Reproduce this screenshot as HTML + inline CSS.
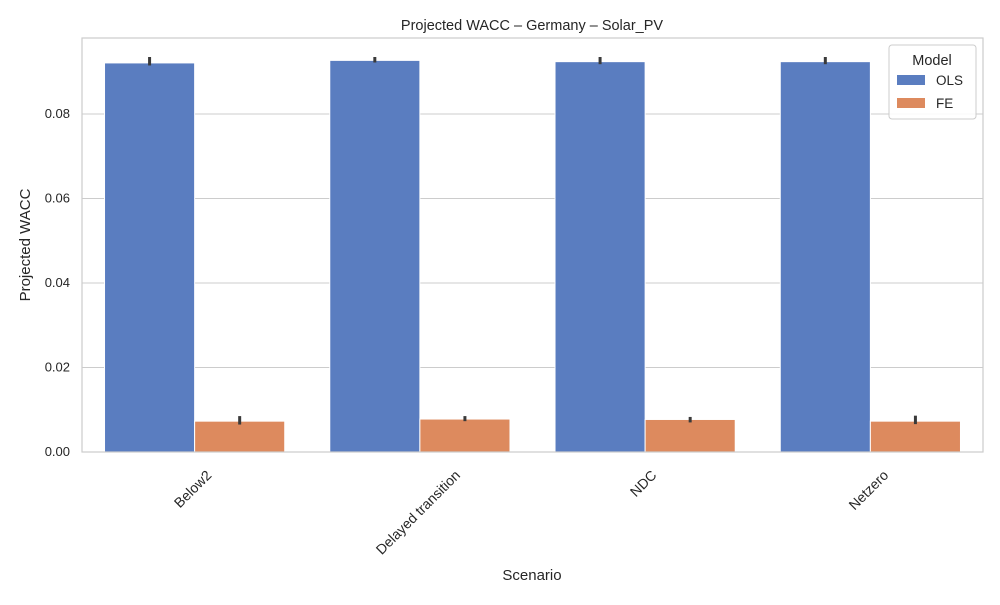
<!DOCTYPE html>
<html><head><meta charset="utf-8"><style>
body{margin:0;background:#fff;font-family:"Liberation Sans",sans-serif}
</style></head><body>
<svg id="chart" width="1000" height="600" font-family="Liberation Sans, sans-serif"></svg>
<script>
const categories=["Below2","Delayed transition","NDC","Netzero"];
const olsValues=[0.0921,0.0927,0.0924,0.0924];
const olsLo=[0.0915,0.0922,0.0918,0.0918];
const olsHi=[0.0935,0.0935,0.0935,0.0935];
const feValues=[0.0073,0.0078,0.0077,0.0073];
const feLo=[0.0065,0.0073,0.0070,0.0066];
const feHi=[0.0085,0.0085,0.0083,0.0086];
const yTicks=[0,0.02,0.04,0.06,0.08];
const yTickLabels=["0.00","0.02","0.04","0.06","0.08"];
const seriesNames=["OLS","FE"];
const colors=["#5a7dc0","#dd8a5e"];
const L=82,R=983,T=38,B=452,yMax=0.098;
const svg=document.getElementById('chart');
const NS="http://www.w3.org/2000/svg";
function y(v){return B-(v/yMax)*(B-T);}
const band=(R-L)/categories.length;
function x(i){return L+band*(i+0.5);}
function mk(t,a,p){const e=document.createElementNS(NS,t);for(const k in a)e.setAttribute(k,a[k]);(p||svg).appendChild(e);return e;}
yTicks.forEach((v,i)=>{
const g=mk('line',{x1:L,x2:R,y1:y(v),y2:y(v),stroke:'#cccccc','stroke-width':1});


const t=mk('text',{x:L-12,y:y(v)+4,'text-anchor':'end','font-size':13,fill:'#262626'});
t.textContent=yTickLabels[i];


});
const bw=band*0.4;
const series=[[olsValues,olsLo,olsHi],[feValues,feLo,feHi]];
series.forEach((s,si)=>{
s[0].forEach((v,i)=>{
const bx=x(i)-bw+si*bw;
const r=mk('rect',{x:bx,y:y(v),width:bw,height:B-y(v),fill:colors[si],stroke:'#fff','stroke-width':1});


const e=mk('line',{x1:bx+bw/2,x2:bx+bw/2,y1:y(s[1][i]),y2:y(s[2][i]),stroke:'#3a3a3a','stroke-width':3});


});
});
const f=mk('rect',{x:L,y:T,width:R-L,height:B-T,fill:'none',stroke:'#cccccc','stroke-width':1.2});


categories.forEach((c,i)=>{
const t=mk('text',{x:0,y:0,'text-anchor':'middle','font-size':14,fill:'#262626'});
t.textContent=c;


const w=t.getComputedTextLength(),h=13;
const cx=x(i)-2,cy=B+16+(w+h)*0.7071/2;
t.setAttribute('x',cx);t.setAttribute('y',cy+5);
t.setAttribute('transform',`rotate(-45 ${cx} ${cy})`);
});
</script>
<svg width="1000" height="600" style="position:absolute;left:0;top:0" font-family="Liberation Sans, sans-serif">
<text x="532" y="30" text-anchor="middle" font-size="14.5" fill="#262626">Projected WACC – Germany – Solar_PV</text>
<text x="532" y="580" text-anchor="middle" font-size="15" fill="#262626">Scenario</text>
<text x="30" y="245" text-anchor="middle" font-size="15" fill="#262626" transform="rotate(-90 30 245)">Projected WACC</text>
<g>
<rect x="889" y="45" width="87" height="74" fill="#fff" fill-opacity="0.85" stroke="#cccccc" rx="3"/>
<text x="932" y="65" text-anchor="middle" font-size="14.5" fill="#262626">Model</text>
<rect x="897" y="75" width="28" height="10" fill="#5a7dc0"/>
<text x="936" y="85" font-size="13.5" fill="#262626">OLS</text>
<rect x="897" y="98" width="28" height="10" fill="#dd8a5e"/>
<text x="936" y="108" font-size="13.5" fill="#262626">FE</text>
</g>
</svg>
</body></html>
